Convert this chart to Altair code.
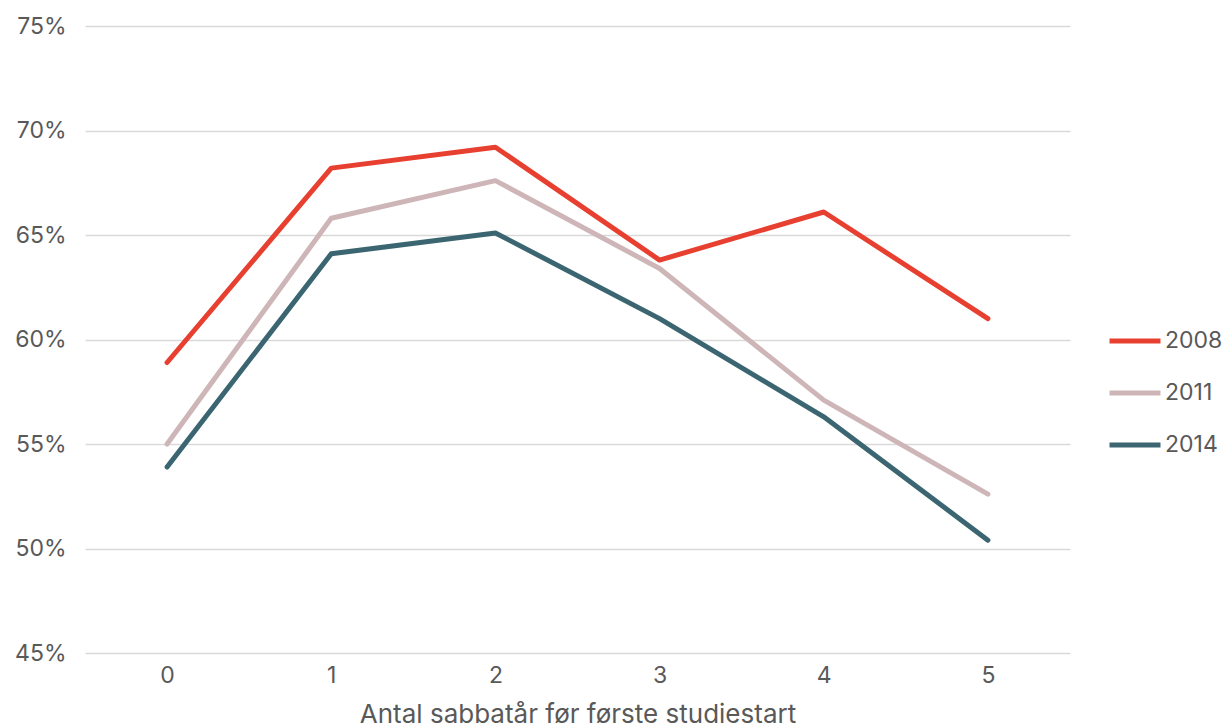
import altair as alt
import pandas as pd

categories = ["0", "1", "2", "3", "4", "5"]
series_names = ["2008", "2011", "2014"]
v2008 = [58.9, 68.2, 69.2, 63.8, 66.1, 61.0]
v2011 = [55.0, 65.8, 67.6, 63.4, 57.1, 52.6]
v2014 = [53.9, 64.1, 65.1, 61.0, 56.3, 50.4]
colors = ["#E84030", "#CEB6B8", "#3B6671"]

rows = []
for name, vals in zip(series_names, [v2008, v2011, v2014]):
    for c, v in zip(categories, vals):
        rows.append({"x": c, "value": v / 100.0, "series": name})
df = pd.DataFrame(rows)

FONT = "Inter"
TXT = "#595959"

chart = alt.Chart(df).mark_line(strokeWidth=5, strokeCap="round", strokeJoin="round").encode(
    x=alt.X("x:O", sort=categories,
            scale=alt.Scale(type="point", padding=0.5),
            axis=alt.Axis(title="Antal sabbatår før første studiestart", labelAngle=0,
                          ticks=False, domain=False, grid=False,
                          labelFontSize=23, labelColor=TXT, labelFont=FONT, labelPadding=11,
                          titleFontSize=26, titleColor=TXT, titleFont=FONT, titleFontWeight="normal",
                          titlePadding=14)),
    y=alt.Y("value:Q", scale=alt.Scale(domain=[0.45, 0.75], nice=False, zero=False),
            axis=alt.Axis(title=None, format=".0%", values=[0.45, 0.5, 0.55, 0.6, 0.65, 0.7, 0.75],
                          ticks=False, domain=False, gridColor="#D9D9D9", gridWidth=1.5,
                          labelFontSize=23, labelColor=TXT, labelFont=FONT, labelPadding=19)),
    color=alt.Color("series:N", sort=series_names,
                    scale=alt.Scale(domain=series_names, range=colors),
                    legend=alt.Legend(title=None, orient="none", legendX=1022, legendY=287,
                                      symbolType="stroke", symbolSize=2600, symbolStrokeWidth=5,
                                      labelFontSize=23, labelColor=TXT, labelFont=FONT,
                                      labelOffset=2, rowPadding=12)),
).properties(
    width=985, height=627,
    background="white",
    autosize=alt.AutoSizeParams(type="none"),
    padding={"left": 77, "top": 18, "right": 153, "bottom": 77},
).configure_view(strokeWidth=0)

chart.save("out.html", embed_options={"renderer": "svg", "actions": False})
